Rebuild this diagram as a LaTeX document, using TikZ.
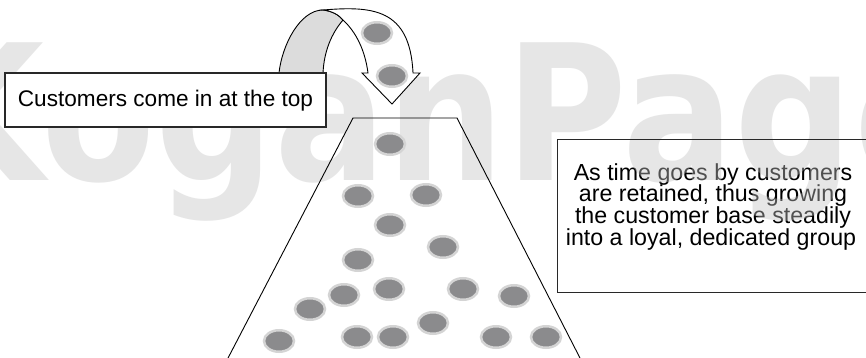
\documentclass[tikz,border=0pt]{standalone}
\usepackage{fontspec}
\setmainfont{Liberation Sans}
\newfontfamily\wmfont{DejaVu Sans}
\usetikzlibrary{shapes.geometric}
\definecolor{wmgray}{gray}{0.765}
\definecolor{dotfill}{RGB}{139,139,141}
\definecolor{dotrim}{RGB}{212,212,212}
\definecolor{ribbon}{RGB}{220,220,220}
\definecolor{boxline}{RGB}{40,40,40}
\begin{document}
\begin{tikzpicture}[x=1pt,y=-1pt,
  txt/.style={font=\fontsize{22.6}{26}\selectfont, text=black},
  rline/.style={font=\fontsize{23.2}{26}\selectfont, text=black, anchor=base, inner sep=0pt},
  boxstyle/.style={draw=boxline, line width=1.3pt, inner sep=0pt},
  dotstyle/.style={ellipse, fill=dotfill, draw=dotrim, line width=2.5pt,
    minimum width=30pt, minimum height=21.5pt, inner sep=0pt},
  wmstyle/.style={anchor=base west, inner sep=0pt, xscale=0.88,
    text=wmgray, text opacity=0.41,
    font=\wmfont\bfseries\fontsize{189}{189}\selectfont},
  edge/.style={draw=black, line width=0.9pt},
  arrowline/.style={draw=black, line width=0.9pt, line join=miter}]
\useasboundingbox (0,0) rectangle (866,358);
\fill[white] (0,0) rectangle (866,358);

% right text (below the watermark)
\node[rline] (r1) at (713,180) {As time goes by customers};
\node[rline] (r2) at (713,201.7) {are retained, thus growing};
\node[rline] (r3) at (713,223.4) {the customer base steadily};
\node[rline] (r4) at (711,245.1) {into a loyal, dedicated group};

% watermark
\node[wmstyle] (wm) at (-85,180) {KoganPage};

% right box border
\node[boxstyle, anchor=north west, minimum width=360pt, minimum height=153pt] (rbox) at (557,139) {};

% funnel
\coordinate (tl) at (353,118);
\coordinate (tr) at (457,118);
\coordinate (bl) at (227,360);
\coordinate (br) at (581,360);
\draw[edge, line join=miter] (bl) -- (tl) -- (tr) -- (br);

% customers in the funnel
\foreach \n/\x/\y in {1/390/144, 2/358/196, 3/426/195, 4/390/225, 5/443/247,
  6/358/260, 7/344/295, 8/389/289, 9/463/289, 10/514/296, 11/310/309,
  12/433/323, 13/279/341, 14/357/337, 15/393/337, 16/496/337, 17/546/337}
  \node[dotstyle] (c\n) at (\x,\y) {};

% curved arrow: back side of the ribbon
\path[arrowline, fill=ribbon]
  (279,73) .. controls (282,45) and (300,10) .. (323,10)
  .. controls (332,11) and (339,15) .. (343,20)
  .. controls (331,34) and (324,52) .. (323,73) -- cycle;
% front side with the head
\path[arrowline, fill=white]
  (323,10) .. controls (372,6) and (410,8) .. (413,73)
  -- (420,73) -- (392,104) -- (362,73) -- (368,73)
  .. controls (365,50) and (356,32) .. (343,20)
  .. controls (339,15) and (332,11) .. (323,10) -- cycle;
\node[dotstyle] (a1) at (377,33) {};
\node[dotstyle] (a2) at (392,76) {};

% left box
\node[boxstyle, fill=white, minimum width=321pt, minimum height=54pt] (lbox) at (165.5,100) {};
\node[txt, anchor=base, inner sep=0pt] (ltext) at (165.5,106.7) {Customers come in at the top};
\end{tikzpicture}
\end{document}
